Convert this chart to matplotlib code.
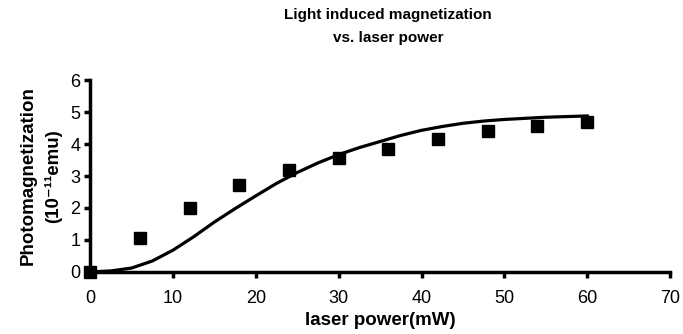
import matplotlib.pyplot as plt

plt.rcParams['font.family'] = ['Liberation Sans', 'DejaVu Sans']

# measured points
power_mw = [0, 6, 12, 18, 24, 30, 36, 42, 48, 54, 60]
magnetization = [0.0, 1.05, 2.0, 2.72, 3.2, 3.55, 3.85, 4.15, 4.4, 4.58, 4.68]

# fitted curve
fit_power = [0, 2.5, 5, 7.5, 10, 12.5, 15, 17.5, 20, 22.5, 25, 27.5, 30,
             32.5, 35, 37.5, 40, 42.5, 45, 47.5, 50, 55, 60]
fit_magn = [0.0, 0.03, 0.12, 0.34, 0.68, 1.1, 1.56, 1.98, 2.38, 2.77, 3.11,
            3.41, 3.67, 3.89, 4.08, 4.27, 4.43, 4.55, 4.65, 4.72, 4.77,
            4.84, 4.88]

fig = plt.figure(figsize=(6.83, 3.34), dpi=100)
ax = fig.add_axes([0.132, 0.186, 0.849, 0.574])

ax.plot(fit_power, fit_magn, color='black', linewidth=2.3, clip_on=False,
        solid_joinstyle='round')
ax.plot(power_mw, magnetization, linestyle='none', marker='s', markersize=9,
        color='black', clip_on=False)

ax.set_xlim(0, 70)
ax.set_ylim(0, 6)
ax.set_xticks(range(0, 71, 10))
ax.set_yticks(range(0, 7))

for side in ['top', 'right']:
    ax.spines[side].set_visible(False)
for side in ['left', 'bottom']:
    ax.spines[side].set_linewidth(2.5)
ax.tick_params(direction='out', length=4, width=2.5, labelsize=13, pad=9)
ax.tick_params(axis='y', pad=3)

ax.set_xlabel('laser power(mW)', fontsize=13.5, fontweight='bold',
              labelpad=4)
ax.set_ylabel('Photomagnetization\n(10\u207b\u00b9\u00b9emu)', fontsize=13.5,
              fontweight='bold', labelpad=6, linespacing=1.55)

fig.text(0.568, 0.955, 'Light induced magnetization', ha='center',
         va='center', fontsize=11, fontweight='bold')
fig.text(0.568, 0.885, 'vs. laser power', ha='center', va='center',
         fontsize=11, fontweight='bold')

fig.savefig('out.png', dpi=100)
